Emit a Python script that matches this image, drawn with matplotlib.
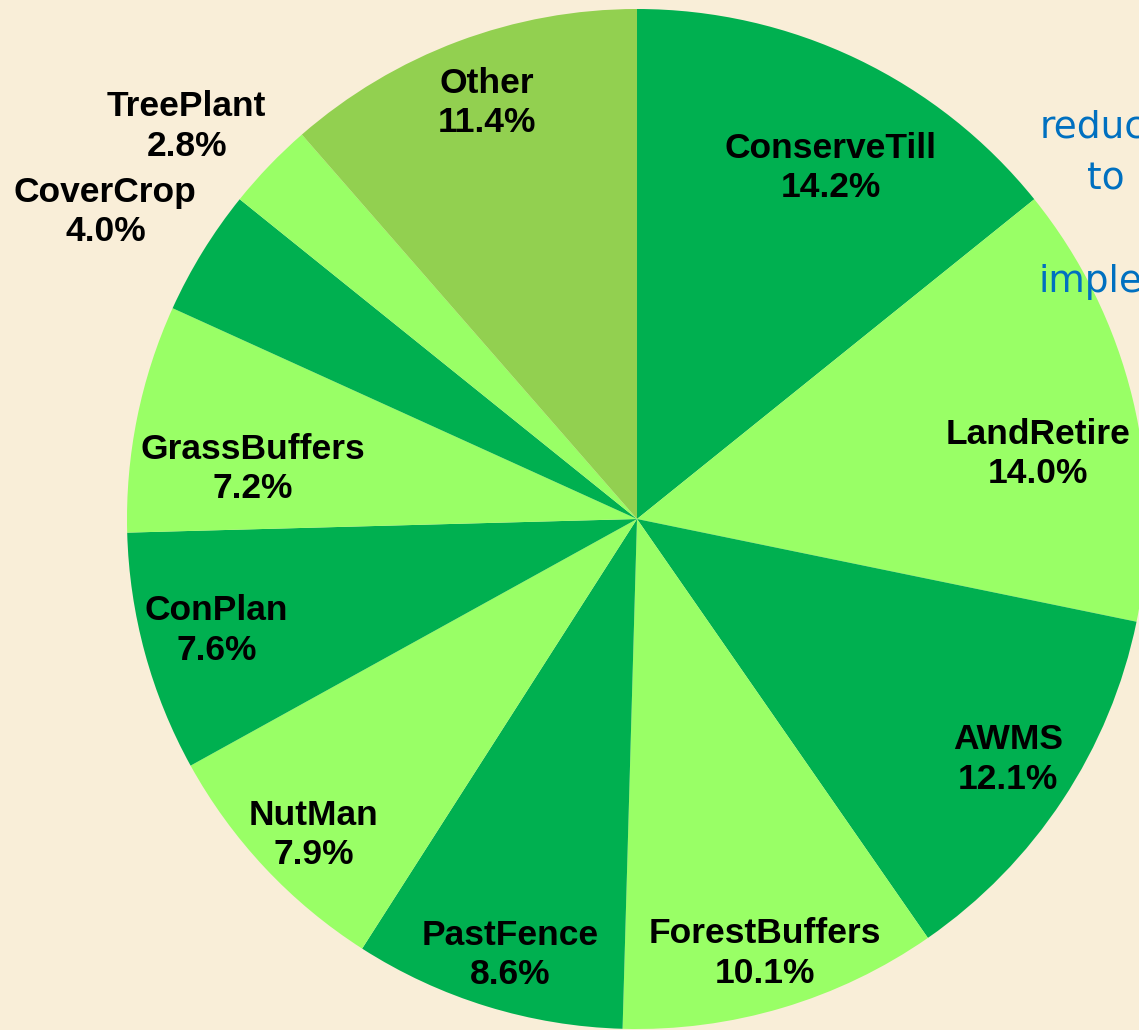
import numpy as np
import matplotlib.pyplot as plt

practices = ["ConserveTill", "LandRetire", "AWMS", "ForestBuffers", "PastFence",
             "NutMan", "ConPlan", "GrassBuffers", "CoverCrop", "TreePlant", "Other"]
shares = [14.2, 14.0, 12.1, 10.1, 8.6, 7.9, 7.6, 7.2, 4.0, 2.8, 11.4]

dark = "#00B050"
light = "#99FF66"
colors = [dark, light, dark, light, dark, light, dark, light, dark, light, "#92D050"]
# label placement: distance (fraction of radius) and angle nudge (deg, clockwise)
label_dist = [0.786, 0.796, 0.867, 0.888, 0.890, 0.886, 0.853, 0.759, 1.204, 1.171, 0.867]
label_nudge = [3.3, 4.4, -0.5, 0.2, -0.9, -1.2, 0.4, -4.0, -1.6, -2.8, 0.7]

side_text = ["reduc", "to", "imple"]

W, H = 1139, 1030
bg = "#F9EED8"
fig = plt.figure(figsize=(W / 100, H / 100), dpi=100)
fig.patch.set_facecolor(bg)
ax = fig.add_axes([0, 0, 1, 1])
ax.set_facecolor(bg)

cx, cy, R = 637, H - 519, 510
wedges, _ = ax.pie(shares, colors=colors, startangle=90, counterclock=False,
                   center=(cx, cy), radius=R, frame=True,
                   wedgeprops=dict(linewidth=0))

for w, name, v, d, nd in zip(wedges, practices, shares, label_dist, label_nudge):
    ang = np.deg2rad((w.theta1 + w.theta2) / 2 - nd)
    x = cx + d * R * np.cos(ang)
    y = cy + d * R * np.sin(ang)
    ax.text(x, y, f"{name}\n{v:.1f}%", ha="center", va="center",
            fontsize=25.5, fontweight="bold", family="Liberation Sans",
            linespacing=1.25)

# clipped side text
blue = dict(fontsize=27, color="#0070C0", family="DejaVu Sans", va="center")
ax.text(1040, H - 128, side_text[0], ha="left", **blue)
ax.text(1106, H - 180, side_text[1], ha="center", **blue)
ax.text(1038, H - 282, side_text[2], ha="left", **blue)

ax.set_xlim(0, W)
ax.set_ylim(0, H)
ax.set_aspect("equal")
ax.axis("off")
fig.savefig("out.png", dpi=100, facecolor=fig.get_facecolor())
